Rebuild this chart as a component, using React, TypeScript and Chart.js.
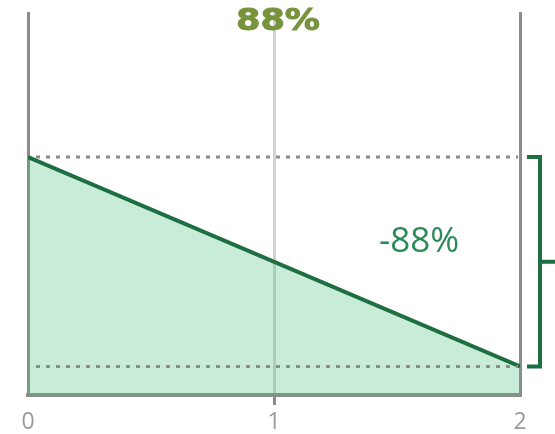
import React, { useEffect, useRef } from "react";
import { Chart, registerables } from "chart.js";

Chart.register(...registerables);

const xValues = [0, 2];
const yValues = [100, 12];
const xTicks = [0, 1, 2];
const titleText = "88%";
const changeText = "-88%";

const DARK_GREEN = "#1d6e40";
const FILL_GREEN = "rgba(72,192,122,0.3)";
const GRAY = "#8c8c8c";
const LIGHT_GRAY = "#d2d2d2";

const annotations = {
  id: "annotations",
  afterDatasetsDraw(chart: any) {
    const { ctx, chartArea, scales } = chart;
    const yS = scales.y;
    const y0 = yS.getPixelForValue(yValues[0]);
    const y1 = yS.getPixelForValue(yValues[yValues.length - 1]);
    ctx.save();
    // dotted reference lines at start and end values
    ctx.strokeStyle = GRAY;
    ctx.lineWidth = 3;
    ctx.setLineDash([4, 6]);
    [y0, y1].forEach((py) => {
      ctx.beginPath();
      ctx.moveTo(chartArea.left + 8, py);
      ctx.lineTo(chartArea.right - 2, py);
      ctx.stroke();
    });
    // bracket
    const bx = chartArea.right + 20;
    ctx.strokeStyle = DARK_GREEN;
    ctx.lineWidth = 4;
    ctx.setLineDash([]);
    ctx.beginPath();
    ctx.moveTo(chartArea.right + 7, y0);
    ctx.lineTo(bx, y0);
    ctx.lineTo(bx, y1);
    ctx.lineTo(chartArea.right + 7, y1);
    ctx.stroke();
    ctx.beginPath();
    ctx.moveTo(bx, (y0 + y1) / 2);
    ctx.lineTo(bx + 16, (y0 + y1) / 2);
    ctx.stroke();
    // change label
    ctx.fillStyle = "#2b8a57";
    ctx.font = "35px 'Open Sans'";
    ctx.textAlign = "center";
    ctx.textBaseline = "alphabetic";
    ctx.fillText(changeText, 419, 252);
    // title
    ctx.fillStyle = "#77933c";
    ctx.strokeStyle = "#77933c";
    ctx.lineWidth = 1;
    ctx.font = "bold 30px 'DejaVu Sans'";
    ctx.translate(278, 30);
    ctx.scale(1.17, 1);
    ctx.fillText(titleText, 0, 0);
    ctx.strokeText(titleText, 0, 0);
    ctx.restore();
  },
};

export default function App() {
  const ref = useRef<HTMLCanvasElement>(null);
  useEffect(() => {
    if (!ref.current) return;
    const chart = new Chart(ref.current, {
      type: "line",
      data: {
        datasets: [
          {
            data: xValues.map((x, i) => ({ x, y: yValues[i] })),
            borderColor: DARK_GREEN,
            borderWidth: 4,
            backgroundColor: FILL_GREEN,
            fill: "origin",
            pointRadius: 0,
            tension: 0,
          },
        ],
      },
      options: {
        animation: false,
        responsive: false,
        maintainAspectRatio: false,
        layout: { padding: { left: 28, right: 35, top: 12, bottom: 0 } },
        plugins: { legend: { display: false }, tooltip: { enabled: false }, title: { display: false } },
        scales: {
          x: {
            type: "linear",
            min: 0,
            max: 2,
            afterBuildTicks: (s: any) => {
              s.ticks = xTicks.map((v) => ({ value: v }));
            },
            afterFit: (s: any) => {
              s.height = 39;
            },
            ticks: {
              color: "#9a9a9a",
              font: { family: "'Open Sans'", size: 23 },
              padding: 4,
              maxRotation: 0,
              autoSkip: false,
            },
            grid: {
              color: (c: any) => (c.tick && c.tick.value === 1 ? LIGHT_GRAY : GRAY),
              lineWidth: 3,
              tickColor: (c: any) => (c.tick && c.tick.value === 1 ? GRAY : "rgba(0,0,0,0)"),
              tickLength: 10,
              drawTicks: true,
            },
            border: { display: true, color: GRAY, width: 4 },
          },
          y: {
            display: false,
            min: 0,
            max: 161,
          },
        },
      },
      plugins: [annotations],
    });
    return () => chart.destroy();
  }, []);
  return (
    <div style={{ position: "fixed", left: 0, top: 0, width: 555, height: 434, background: "#fff" }}>
      <canvas ref={ref} width={555} height={434} style={{ width: 555, height: 434, display: "block" }} />
    </div>
  );
}
